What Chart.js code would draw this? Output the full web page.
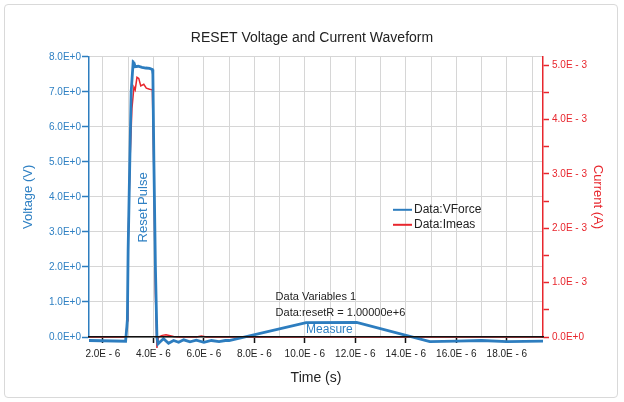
<!DOCTYPE html>
<html>
<head>
<meta charset="utf-8">
<script src="https://cdn.jsdelivr.net/npm/chart.js@4/dist/chart.umd.min.js"></script>
<style>
  body { margin: 0; background: #fff; }
  #wrap { position: relative; width: 624px; height: 402px; }
  #frame { position: absolute; left: 4px; top: 4px; width: 614px; height: 394px; border: 1px solid #d9d9d9; border-radius: 4px; box-sizing: border-box; }
  #myChart { position: absolute; left: 0; top: 0; }
</style>
</head>
<body>
<div id="wrap">
  <div id="frame"></div>
  <canvas id="myChart" width="624" height="402"></canvas>
</div>
<script>
// time in microseconds, voltage in V, current in mA
var vTime  = [1.45, 2.9, 2.95, 2.97, 3.0, 3.06, 3.12, 3.2, 3.22, 3.28, 3.4, 3.55, 3.7, 3.85, 3.96, 3.98, 4.02, 4.08, 4.14, 4.18,
              4.25, 4.4, 4.6, 4.8, 5.0, 5.2, 5.45, 5.7, 6.0, 6.3, 6.6, 6.85, 7.0, 10.05, 12.05, 14.95, 16.0, 17.0, 18.0, 19.43];
var vForce = [-0.1, -0.12, 0.3, 0.5, 2.5, 4.8, 7.0, 7.86, 7.85, 7.72, 7.73, 7.7, 7.68, 7.67, 7.64, 7.5, 5.0, 2.0, 0.0, -0.2,
              -0.15, -0.05, -0.18, -0.1, -0.15, -0.08, -0.14, -0.09, -0.15, -0.1, -0.13, -0.1, -0.1, 0.41, 0.42, -0.13, -0.12, -0.1, -0.13, -0.12];

var iTime = [1.45, 2.91, 2.97, 2.99, 3.07, 3.15, 3.23, 3.28, 3.35, 3.42, 3.5, 3.62, 3.72, 3.85, 3.96, 4.02, 4.08, 4.14, 4.2,
             4.35, 4.5, 4.8, 5.0, 5.7, 5.9, 6.1, 19.43];
var iMeas = [0.0, 0.0, 0.3, 1.5, 3.2, 4.2, 4.6, 4.55, 4.78, 4.76, 4.62, 4.65, 4.58, 4.56, 4.55, 3.0, 0.8, -0.2, 0.0,
             0.03, 0.04, 0.01, 0.0, 0.0, 0.02, 0.0, 0.0];

var seriesNames = ["Data:VForce", "Data:Imeas"];
var xTicks = [2, 4, 6, 8, 10, 12, 14, 16, 18];

var blue = "#2d7dbf";
var blueText = "#2f80c3";
var red = "#e8262d";

Chart.defaults.font.family = "'Liberation Sans', Arial, sans-serif";
Chart.defaults.color = "#222";

function toPoints(ts, vs) {
  return ts.map(function(t, i) { return {x: t, y: vs[i]}; });
}

var legendBox = {
  id: "legendBox",
  afterDraw: function(chart) {
    var ctx = chart.ctx, ca = chart.chartArea;
    var lx = ca.left + 304, ly = ca.top + 153;
    ctx.save();
    ctx.font = "12px 'Liberation Sans', Arial, sans-serif";
    ctx.textBaseline = "middle";
    chart.data.datasets.forEach(function(ds, i) {
      var y = ly + i * 15;
      ctx.strokeStyle = ds.borderColor;
      ctx.lineWidth = 2;
      ctx.beginPath();
      ctx.moveTo(lx, y);
      ctx.lineTo(lx + 19, y);
      ctx.stroke();
      ctx.fillStyle = "#222";
      ctx.fillText(ds.label, lx + 21, y);
    });
    ctx.restore();
  }
};

var notes = {
  id: "notes",
  afterDatasetsDraw: function(chart) {
    var ctx = chart.ctx, x = chart.scales.x, y = chart.scales.y;
    ctx.save();
    ctx.textBaseline = "middle";
    // Reset Pulse label
    ctx.save();
    ctx.translate(x.getPixelForValue(3.6), y.getPixelForValue(3.7));
    ctx.rotate(-Math.PI / 2);
    ctx.font = "13px 'Liberation Sans', Arial, sans-serif";
    ctx.fillStyle = blueText;
    ctx.textAlign = "center";
    ctx.fillText("Reset Pulse", 0, 0);
    ctx.restore();

    ctx.font = "11px 'Liberation Sans', Arial, sans-serif";
    ctx.fillStyle = "#222";
    ctx.textAlign = "left";
    ctx.fillText("Data Variables 1", x.getPixelForValue(8.84), y.getPixelForValue(1.15));
    ctx.fillText("Data:resetR = 1.00000e+6", x.getPixelForValue(8.84), y.getPixelForValue(0.69));

    ctx.font = "12px 'Liberation Sans', Arial, sans-serif";
    ctx.fillStyle = blueText;
    ctx.textAlign = "center";
    ctx.fillText("Measure", x.getPixelForValue(10.97), y.getPixelForValue(0.2));
    ctx.restore();
  }
};

var ctx = document.getElementById("myChart");
var myChart = new Chart(ctx, {
  type: "line",
  data: {
    datasets: [
      {
        label: seriesNames[0],
        data: toPoints(vTime, vForce),
        borderColor: blue,
        borderWidth: 2.8,
        pointRadius: 0,
        clip: false,
        yAxisID: "y"
      },
      {
        label: seriesNames[1],
        data: toPoints(iTime, iMeas),
        borderColor: red,
        borderWidth: 1.5,
        pointRadius: 0,
        clip: false,
        yAxisID: "y1"
      }
    ]
  },
  options: {
    responsive: false,
    animation: false,
    layout: {padding: 0},
    plugins: {
      legend: {display: false},
      tooltip: {enabled: false},
      title: {
        display: true,
        text: "RESET Voltage and Current Waveform",
        color: "#222",
        font: {size: 14, weight: "normal"},
        padding: {top: 30, bottom: 10}
      }
    },
    scales: {
      x: {
        type: "linear",
        min: 1.45,
        max: 19.43,
        afterFit: function(s) { s.height = 65; },
        border: {color: "#111", width: 1.5, z: 1},
        grid: {
          color: "#d6d6d6",
          tickLength: 6,
          tickWidth: 1.5,
          tickColor: function(c) { return xTicks.indexOf(c.tick.value) >= 0 ? "#111" : "rgba(0,0,0,0)"; }
        },
        ticks: {
          stepSize: 1,
          includeBounds: false,
          autoSkip: false,
          maxRotation: 0,
          padding: 5,
          color: "#222",
          font: {size: 10},
          callback: function(v) { return xTicks.indexOf(v) >= 0 ? v.toFixed(1) + "E - 6" : ""; }
        },
        title: {
          display: true,
          text: "Time (s)",
          color: "#222",
          font: {size: 14},
          padding: {top: 0, bottom: 15.6}
        }
      },
      y: {
        position: "left",
        min: 0,
        max: 8,
        afterFit: function(s) { s.width = 89; },
        border: {color: blue, width: 1.5},
        grid: {color: "#d6d6d6", tickLength: 7, tickColor: blue, tickWidth: 1.5},
        ticks: {
          stepSize: 1,
          padding: 1,
          color: blueText,
          font: {size: 10},
          callback: function(v) { return v.toFixed(1) + "E+0"; }
        },
        title: {
          display: true,
          text: "Voltage (V)",
          color: blueText,
          font: {size: 13},
          padding: {top: 21, bottom: 0}
        }
      },
      y1: {
        position: "right",
        min: 0,
        max: 5.157,
        afterFit: function(s) { s.width = 81; },
        border: {color: red, width: 1.5},
        grid: {drawOnChartArea: false, tickLength: 6, tickColor: red, tickWidth: 1.5},
        ticks: {
          stepSize: 0.5,
          includeBounds: false,
          padding: 3,
          color: red,
          font: {size: 10},
          callback: function(v) {
            if (v === 0) return "0.0E+0";
            return Math.abs(v - Math.round(v)) < 1e-9 ? v.toFixed(1) + "E - 3" : "";
          }
        },
        title: {
          display: true,
          text: "Current (A)",
          color: red,
          font: {size: 13},
          padding: {top: 18.2, bottom: 0}
        }
      }
    }
  },
  plugins: [legendBox, notes]
});
</script>
</body>
</html>
